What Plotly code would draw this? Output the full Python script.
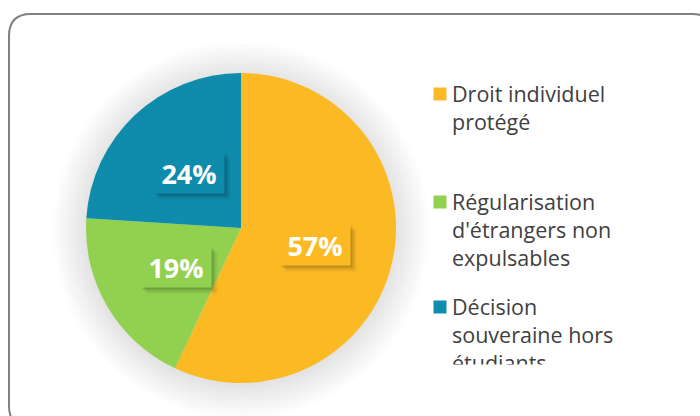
"""
Pie chart: repartition of residence permit decisions.
"""

from __future__ import annotations

import math

import plotly.graph_objects as go

W, H = 700, 416

categories = [
    "Droit individuel<br>protégé",
    "Régularisation<br>d'étrangers non<br>expulsables",
    "Décision<br>souveraine hors<br>étudiants",
]
values = [57, 19, 24]
colors = ["#FBBA24", "#92D050", "#0F8BAB"]

# pie geometry in pixels
cx, cy, R = 241, 228, 155


def px_x(x):
    return x / W


def px_y(y):
    return 1 - y / H


fig = go.Figure()

fig.add_trace(
    go.Pie(
        labels=categories,
        values=values,
        sort=False,
        direction="clockwise",
        rotation=0,
        marker={"colors": colors, "line": {"width": 0}},
        textinfo="none",
        hoverinfo="label+percent",
        showlegend=False,
        domain={"x": [px_x(cx - R), px_x(cx + R)], "y": [px_y(cy + R), px_y(cy - R)]},
    )
)

# soft shadow around the pie
shapes = []
for i in range(14):
    r = R + 1 + i * 2.5
    shapes.append(
        {
            "type": "circle",
            "xref": "paper",
            "yref": "paper",
            "x0": px_x(cx - r),
            "x1": px_x(cx + r),
            "y0": px_y(cy + 2 + r),
            "y1": px_y(cy + 2 - r),
            "fillcolor": "rgba(0,0,0,0.009)",
            "line": {"width": 0},
            "layer": "below",
        }
    )

# rounded frame (right and bottom sides fall outside the picture)
x0, y0, x1, y1, rc = 9, 14, 714, 428, 22
path = (
    f"M {px_x(x0)},{px_y(y0 + rc)} "
    f"Q {px_x(x0)},{px_y(y0)} {px_x(x0 + rc)},{px_y(y0)} "
    f"L {px_x(x1 - rc)},{px_y(y0)} "
    f"Q {px_x(x1)},{px_y(y0)} {px_x(x1)},{px_y(y0 + rc)} "
    f"L {px_x(x1)},{px_y(y1 - rc)} "
    f"Q {px_x(x1)},{px_y(y1)} {px_x(x1 - rc)},{px_y(y1)} "
    f"L {px_x(x0 + rc)},{px_y(y1)} "
    f"Q {px_x(x0)},{px_y(y1)} {px_x(x0)},{px_y(y1 - rc)} Z"
)
shapes.append(
    {
        "type": "path",
        "xref": "paper",
        "yref": "paper",
        "path": path,
        "line": {"color": "#808080", "width": 2},
        "layer": "below",
    }
)

# percentage labels in boxes, at half radius on each slice's middle angle
total = sum(values)
annotations = []
start = 0.0
for v, c in zip(values, colors):
    mid = (start + v / 2) / total * 2 * math.pi
    start += v
    lx = cx + 0.49 * R * math.sin(mid)
    ly = cy - 0.49 * R * math.cos(mid)
    text = f"{round(v / total * 100)}%"
    base = {
        "x": px_x(lx),
        "y": px_y(ly),
        "xref": "paper",
        "yref": "paper",
        "xanchor": "center",
        "yanchor": "middle",
        "text": text,
        "showarrow": False,
        "width": 60,
        "height": 30,
        "borderpad": 5,
    }
    for d, alpha in ((6, 0.05), (4, 0.08), (2, 0.12)):
        annotations.append(
            {
                **base,
                "xshift": d,
                "yshift": -d,
                "bgcolor": f"rgba(0,0,0,{alpha})",
                "font": {"family": "Open Sans", "size": 27, "color": "rgba(0,0,0,0)", "weight": "bold"},
            }
        )
    annotations.append(
        {
            **base,
            "bgcolor": c,
            "font": {"family": "Open Sans", "size": 27, "color": "white", "weight": "bold"},
        }
    )

# legend built from annotations: colored square + wrapped label
leg_sq_x, leg_txt_x = 433, 451
leg_tops = [78, 186, 291]
for lab, c, top in zip(categories, colors, leg_tops):
    annotations.append(
        {
            "x": px_x(leg_sq_x),
            "y": px_y(top + 16),
            "xref": "paper",
            "yref": "paper",
            "xanchor": "left",
            "yanchor": "middle",
            "text": " ",
            "showarrow": False,
            "width": 12,
            "height": 12,
            "borderpad": 0,
            "bgcolor": c,
            "font": {"size": 8},
        }
    )
    annotations.append(
        {
            "x": px_x(leg_txt_x),
            "y": px_y(top),
            "xref": "paper",
            "yref": "paper",
            "xanchor": "left",
            "yanchor": "top",
            "align": "left",
            "text": lab,
            "showarrow": False,
            "borderpad": 0,
            "font": {"family": "Open Sans", "size": 21.5, "color": "#404040"},
        }
    )

# legend area is clipped at the bottom in the source chart
annotations.append(
    {
        "x": px_x(440),
        "y": px_y(364),
        "xref": "paper",
        "yref": "paper",
        "xanchor": "left",
        "yanchor": "top",
        "text": " ",
        "showarrow": False,
        "width": 220,
        "height": 40,
        "borderpad": 0,
        "bgcolor": "white",
        "font": {"size": 8},
    }
)

fig.update_layout(
    width=W,
    height=H,
    margin={"l": 0, "r": 0, "t": 0, "b": 0},
    paper_bgcolor="white",
    plot_bgcolor="white",
    showlegend=False,
    shapes=shapes,
    annotations=annotations,
)

# drop the page margin so the figure fills the window without scrollbars
fig.write_html(
    "out.html",
    config={"displayModeBar": False},
    post_script=(
        "document.body.style.margin='0';"
        "document.body.style.overflow='hidden';"
        "document.documentElement.style.overflow='hidden';"
    ),
)
